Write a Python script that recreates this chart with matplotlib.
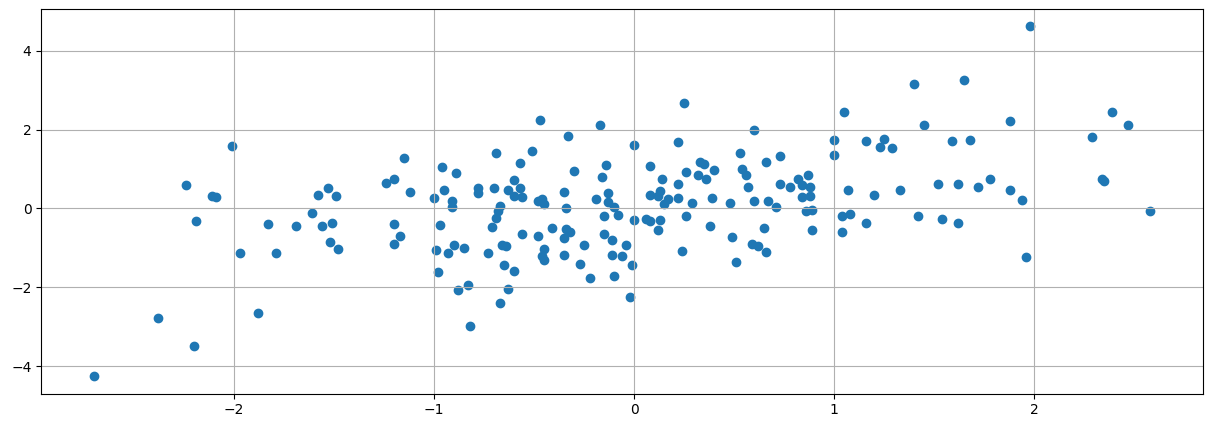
import matplotlib
matplotlib.use('Agg')
import matplotlib.pyplot as plt

# Значения x и y.
x_vals = [
    -2.70, -2.38, -2.20, -2.24, -2.19, -2.11, -2.09, -2.01, -1.97, -1.88,
    -1.83, -1.79, -1.69, -1.61, -1.58, -1.56, -1.53, -1.52, -1.51, -1.49,
    -1.48, -1.24, -1.20, -1.20, -1.20, -1.17, -1.15, -1.12,
    -1.00, -0.99, -0.98, -0.97, -0.96, -0.95, -0.93, -0.91, -0.91, -0.90,
    -0.89, -0.88, -0.85, -0.83, -0.82, -0.78, -0.78, -0.73, -0.71, -0.70,
    -0.69, -0.69, -0.68, -0.67, -0.67, -0.66, -0.65, -0.64, -0.63, -0.63,
    -0.60, -0.60, -0.60, -0.57, -0.57, -0.56, -0.56, -0.51, -0.48, -0.48,
    -0.47, -0.46, -0.45, -0.46, -0.45, -0.45, -0.41, -0.35, -0.35, -0.35,
    -0.34, -0.34, -0.33, -0.32, -0.30, -0.27, -0.25, -0.22, -0.19, -0.17,
    -0.16, -0.15, -0.15, -0.14, -0.13, -0.13, -0.11, -0.11, -0.10, -0.10,
    -0.08, -0.06, -0.04, -0.02, -0.01, 0.00, 0.00,
    0.06, 0.08, 0.08, 0.08, 0.12, 0.12, 0.13, 0.13, 0.14, 0.15,
    0.17, 0.22, 0.22, 0.22, 0.24, 0.25, 0.26, 0.26, 0.29, 0.32,
    0.33, 0.35, 0.36, 0.38, 0.39, 0.40, 0.48, 0.49, 0.51, 0.53,
    0.54, 0.56, 0.57, 0.59, 0.60, 0.60, 0.62, 0.65, 0.66, 0.66,
    0.67, 0.71, 0.73, 0.73, 0.78, 0.82, 0.84, 0.84, 0.86, 0.87,
    0.88, 0.88, 0.89, 0.89, 1.00, 1.00,
    1.04, 1.04, 1.05, 1.07, 1.08, 1.16, 1.16, 1.20, 1.23, 1.25,
    1.29, 1.33, 1.40, 1.42, 1.45, 1.52, 1.54, 1.59, 1.62, 1.62,
    1.65, 1.68, 1.72, 1.78, 1.88, 1.88, 1.94, 1.96, 1.98, 2.29,
    2.34, 2.35, 2.39, 2.47, 2.58,
]
y_vals = [
    -4.26, -2.78, -3.50, 0.59, -0.33, 0.31, 0.28, 1.58, -1.13, -2.66,
    -0.40, -1.14, -0.45, -0.12, 0.33, -0.45, 0.51, -0.86, -0.38, 0.31,
    -1.04, 0.64, 0.74, -0.40, -0.91, -0.70, 1.28, 0.41,
    0.26, -1.06, -1.62, -0.42, 1.04, 0.48, -1.14, 0.18, 0.03, -0.94,
    0.89, -2.07, -1.01, -1.95, -2.99, 0.51, 0.40, -1.14, -0.47, 0.51,
    1.42, -0.25, -0.07, 0.06, -2.39, -0.93, -1.44, -0.96, -2.05, 0.46,
    0.72, 0.31, -1.59, 0.51, 1.16, 0.28, -0.65, 1.46, -0.70, 0.18,
    2.24, 0.24, 0.11, -1.21, -1.03, -1.31, -0.50, 0.41, -0.75, -1.18,
    0.00, -0.53, 1.83, -0.60, 0.94, -1.41, -0.93, -1.77, 0.25, 2.13,
    0.81, -0.20, -0.65, 1.11, 0.40, 0.16, -0.81, -1.19, 0.03, -1.72,
    -0.17, -1.21, -0.93, -2.25, -1.44, 1.62, -0.30,
    -0.28, -0.33, 1.07, 0.35, 0.32, -0.55, 0.45, -0.30, 0.76, 0.11,
    0.25, 1.68, 0.63, 0.27, -1.09, 2.69, 0.92, -0.20, 0.15, 0.86,
    1.19, 1.12, 0.74, -0.45, 0.27, 0.97, 0.15, -0.73, -1.37, 1.42,
    1.01, 0.84, 0.54, -0.89, 1.98, 0.20, -0.96, -0.50, 1.19, -1.11,
    0.20, 0.03, 1.32, 0.63, 0.54, 0.75, 0.60, 0.28, -0.07, 0.86,
    0.55, 0.32, -0.05, -0.55, 1.75, 1.35,
    -0.20, -0.61, 2.46, 0.46, -0.15, 1.70, -0.38, 0.35, 1.57, 1.77,
    1.53, 0.46, 3.15, -0.18, 2.13, 0.63, -0.28, 1.70, 0.61, -0.38,
    3.27, 1.75, 0.55, 0.75, 2.23, 0.48, 0.22, -1.22, 4.62, 1.82,
    0.75, 0.70, 2.46, 2.13, -0.06,
]

# Нанесение данных на диаграмму.
fig = plt.figure(figsize=(12.12, 4.28), dpi=100)
plt.scatter(x_vals, y_vals)
plt.grid(True)

plt.subplots_adjust(left=0.034, right=0.9925, bottom=0.08, top=0.979)
plt.savefig('out.png', dpi=100)
